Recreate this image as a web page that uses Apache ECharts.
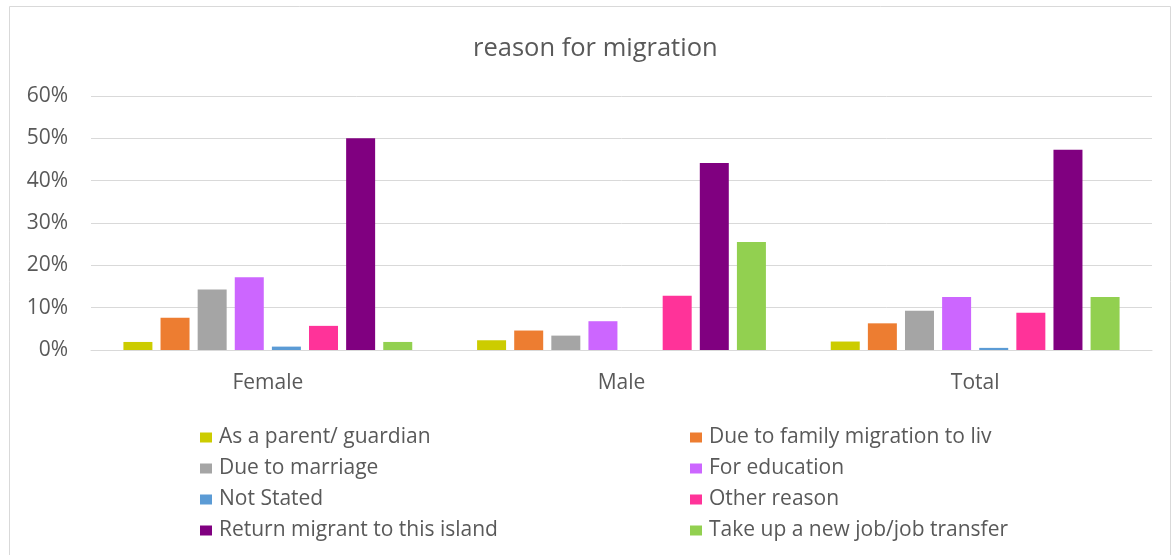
<!DOCTYPE html>
<html>
<head>
<meta charset="utf-8">
<script src="https://cdn.jsdelivr.net/npm/echarts@6/dist/echarts.min.js"></script>
<style>
  html, body { margin: 0; padding: 0; background: #fff; }
  #chart { width: 1173px; height: 555px; }
</style>
</head>
<body>
<div id="chart"></div>
<script>
// Migration reasons, share of migrants by sex
const categories = ['Female', 'Male', 'Total'];
const reasons = [
  'As a parent/ guardian',
  'Due to family migration to liv',
  'Due to marriage',
  'For education',
  'Not Stated',
  'Other reason',
  'Return migrant to this island',
  'Take up a new job/job transfer'
];
const asParent      = [0.019, 0.023, 0.020];
const familyMove    = [0.076, 0.046, 0.063];
const marriage      = [0.143, 0.034, 0.093];
const education     = [0.172, 0.068, 0.125];
const notStated     = [0.008, 0.000, 0.005];
const otherReason   = [0.057, 0.128, 0.088];
const returnMigrant = [0.500, 0.442, 0.473];
const newJob        = [0.019, 0.255, 0.125];
const yTicks = [0, 0.1, 0.2, 0.3, 0.4, 0.5, 0.6];

const seriesValues = [asParent, familyMove, marriage, education, notStated, otherReason, returnMigrant, newJob];
const colors = ['#CCCC00', '#ED7D31', '#A5A5A5', '#CC66FF', '#5B9BD5', '#FF3399', '#800080', '#92D050'];

const fontFamily = '"Open Sans", "Noto Sans", sans-serif';
const textColor = '#595959';

const chart = echarts.init(document.getElementById('chart'), null, { renderer: 'canvas' });

const legendCommon = {
  orient: 'vertical',
  padding: 0,
  itemWidth: 12,
  itemHeight: 10,
  itemGap: 10,
  icon: 'rect',
  textStyle: { fontFamily, fontSize: 21, lineHeight: 21, color: textColor, padding: [0, 0, 0, 2] },
  selectedMode: false
};

chart.setOption({
  backgroundColor: '#fff',
  animation: false,
  title: {
    text: 'reason for migration',
    left: 473,
    top: 35,
    padding: 0,
    textStyle: { fontFamily, fontSize: 25.5, lineHeight: 28, fontWeight: 'normal', color: textColor }
  },
  legend: [
    Object.assign({}, legendCommon, { left: 200, top: 427, data: reasons.filter((_, i) => i % 2 === 0) }),
    Object.assign({}, legendCommon, { left: 690, top: 427, data: reasons.filter((_, i) => i % 2 === 1) })
  ],
  grid: { left: 91, right: 21, top: 96, bottom: 205, containLabel: false },
  xAxis: {
    type: 'category',
    data: categories,
    axisLine: { lineStyle: { color: '#D9D9D9', width: 1 } },
    axisTick: { show: false },
    axisLabel: { fontFamily, fontSize: 21, lineHeight: 21, color: textColor, margin: 23 }
  },
  yAxis: {
    type: 'value',
    min: yTicks[0],
    max: yTicks[yTicks.length - 1],
    interval: 0.1,
    axisLine: { show: false },
    axisTick: { show: false },
    splitLine: { lineStyle: { color: '#D9D9D9', width: 1 } },
    axisLabel: {
      fontFamily, fontSize: 21, color: textColor, margin: 23,
      formatter: v => Math.round(v * 100) + '%'
    }
  },
  graphic: [{
    type: 'rect',
    shape: { x: 9.5, y: 6.5, width: 1161, height: 560 },
    style: { fill: 'none', stroke: '#D9D9D9', lineWidth: 1 },
    silent: true
  }],
  series: reasons.map((name, i) => ({
    name,
    type: 'bar',
    data: seriesValues[i],
    barWidth: 29,
    barGap: '28%',
    itemStyle: { color: colors[i] }
  }))
});
</script>
</body>
</html>
